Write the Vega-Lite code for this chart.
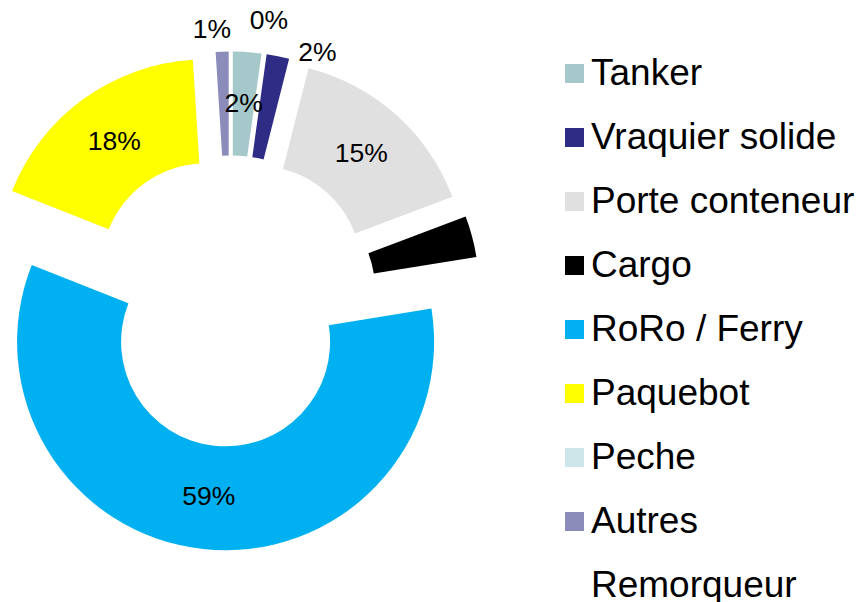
{
  "$schema": "https://vega.github.io/schema/vega-lite/v6.json",
  "width": 460,
  "height": 602,
  "padding": 0,
  "background": "#ffffff",
  "config": {"view": {"stroke": null}, "font": "Liberation Sans"},
  "data": {
    "values": [
      {"cat": "Tanker", "pct": 0.022, "ord": 1},
      {"cat": "Vraquier solide", "pct": 0.0175, "ord": 2},
      {"cat": "Porte conteneur", "pct": 0.153, "ord": 3},
      {"cat": "Cargo", "pct": 0.032, "ord": 4},
      {"cat": "RoRo / Ferry", "pct": 0.5855, "ord": 5},
      {"cat": "Paquebot", "pct": 0.18, "ord": 6},
      {"cat": "Peche", "pct": 0, "ord": 7},
      {"cat": "Autres", "pct": 0.01, "ord": 8},
      {"cat": "Remorqueur", "pct": 0, "ord": 9}
    ]
  },
  "transform": [
    {"stack": "pct", "groupby": [], "sort": [{"field": "ord", "order": "ascending"}], "as": ["p0", "p1"]}
  ],
  "layer": [
    {
      "encoding": {
        "theta": {"field": "p0", "type": "quantitative", "scale": {"domain": [0, 1]}},
        "theta2": {"field": "p1"},
        "color": {
          "field": "cat",
          "type": "nominal",
          "scale": {
            "domain": ["Tanker", "Vraquier solide", "Porte conteneur", "Cargo", "RoRo / Ferry", "Paquebot", "Peche", "Autres", "Remorqueur"],
            "range": ["#A5C8CA", "#2E2C84", "#E0E0E0", "#000000", "#00B0F0", "#FFFF00", "#CCE6EA", "#8C8CBA", "#FFFFFF"]
          },
          "legend": {
            "title": null,
            "orient": "none",
            "legendX": 556,
            "legendY": 55,
            "symbolType": "square",
            "symbolSize": 361,
            "symbolStrokeWidth": 0,
            "labelFontSize": 37,
            "labelFont": "Liberation Sans",
            "labelColor": "#000000",
            "labelOffset": -2,
            "labelLimit": 400,
            "rowPadding": 26
          }
        }
      },
      "layer": [
        {"transform": [{"filter": "datum.cat === 'Tanker'"}], "mark": {"type": "arc", "innerRadius": 104.5, "outerRadius": 208.5, "xOffset": 2.8, "yOffset": -40.9}},
        {"transform": [{"filter": "datum.cat === 'Vraquier solide'"}], "mark": {"type": "arc", "innerRadius": 104.5, "outerRadius": 208.5, "xOffset": 7.9, "yOffset": -40.2}},
        {"transform": [{"filter": "datum.cat === 'Porte conteneur'"}], "mark": {"type": "arc", "innerRadius": 104.5, "outerRadius": 208.5, "xOffset": 27.3, "yOffset": -30.6}},
        {"transform": [{"filter": "datum.cat === 'Cargo'"}], "mark": {"type": "arc", "innerRadius": 104.5, "outerRadius": 208.5, "xOffset": 40.6, "yOffset": -10.8}},
        {"transform": [{"filter": "datum.cat === 'RoRo / Ferry'"}], "mark": {"type": "arc", "innerRadius": 104.5, "outerRadius": 208.5, "xOffset": -4.4, "yOffset": 40.8}},
        {"transform": [{"filter": "datum.cat === 'Paquebot'"}], "mark": {"type": "arc", "innerRadius": 104.5, "outerRadius": 208.5, "xOffset": -24.1, "yOffset": -33.2}},
        {"transform": [{"filter": "datum.cat === 'Autres'"}], "mark": {"type": "arc", "innerRadius": 104.5, "outerRadius": 208.5, "xOffset": -1.3, "yOffset": -41}}
      ]
    },
    {
      "encoding": {
        "theta": {"field": "pct", "type": "quantitative", "stack": true, "scale": {"domain": [0, 1]}},
        "order": {"field": "ord", "type": "quantitative"}
      },
      "layer": [
        {
          "mark": {"type": "text", "radius": 197, "fontSize": 26.5, "font": "Liberation Sans", "color": "#000000"},
          "encoding": {"text": {"condition": {"test": "indexof(['Tanker','Porte conteneur','RoRo / Ferry','Paquebot'], datum.cat) >= 0", "field": "pct", "type": "quantitative", "format": ".0%"}, "value": ""}}
        },
        {
          "mark": {"type": "text", "radius": 265, "fontSize": 26.5, "font": "Liberation Sans", "color": "#000000", "dx": 36.6, "dy": 12.4},
          "encoding": {"text": {"condition": {"test": "datum.cat === 'Vraquier solide'", "field": "pct", "type": "quantitative", "format": ".0%"}, "value": ""}}
        },
        {
          "mark": {"type": "text", "radius": 265, "fontSize": 26.5, "font": "Liberation Sans", "color": "#000000", "dx": 55.6, "dy": -15.5},
          "encoding": {"text": {"condition": {"test": "datum.cat === 'Peche'", "field": "pct", "type": "quantitative", "format": ".0%"}, "value": ""}}
        },
        {
          "mark": {"type": "text", "radius": 265, "fontSize": 26.5, "font": "Liberation Sans", "color": "#000000", "dx": -9.7, "dy": -6.6},
          "encoding": {"text": {"condition": {"test": "datum.cat === 'Autres'", "field": "pct", "type": "quantitative", "format": ".0%"}, "value": ""}}
        }
      ]
    }
  ]
}
